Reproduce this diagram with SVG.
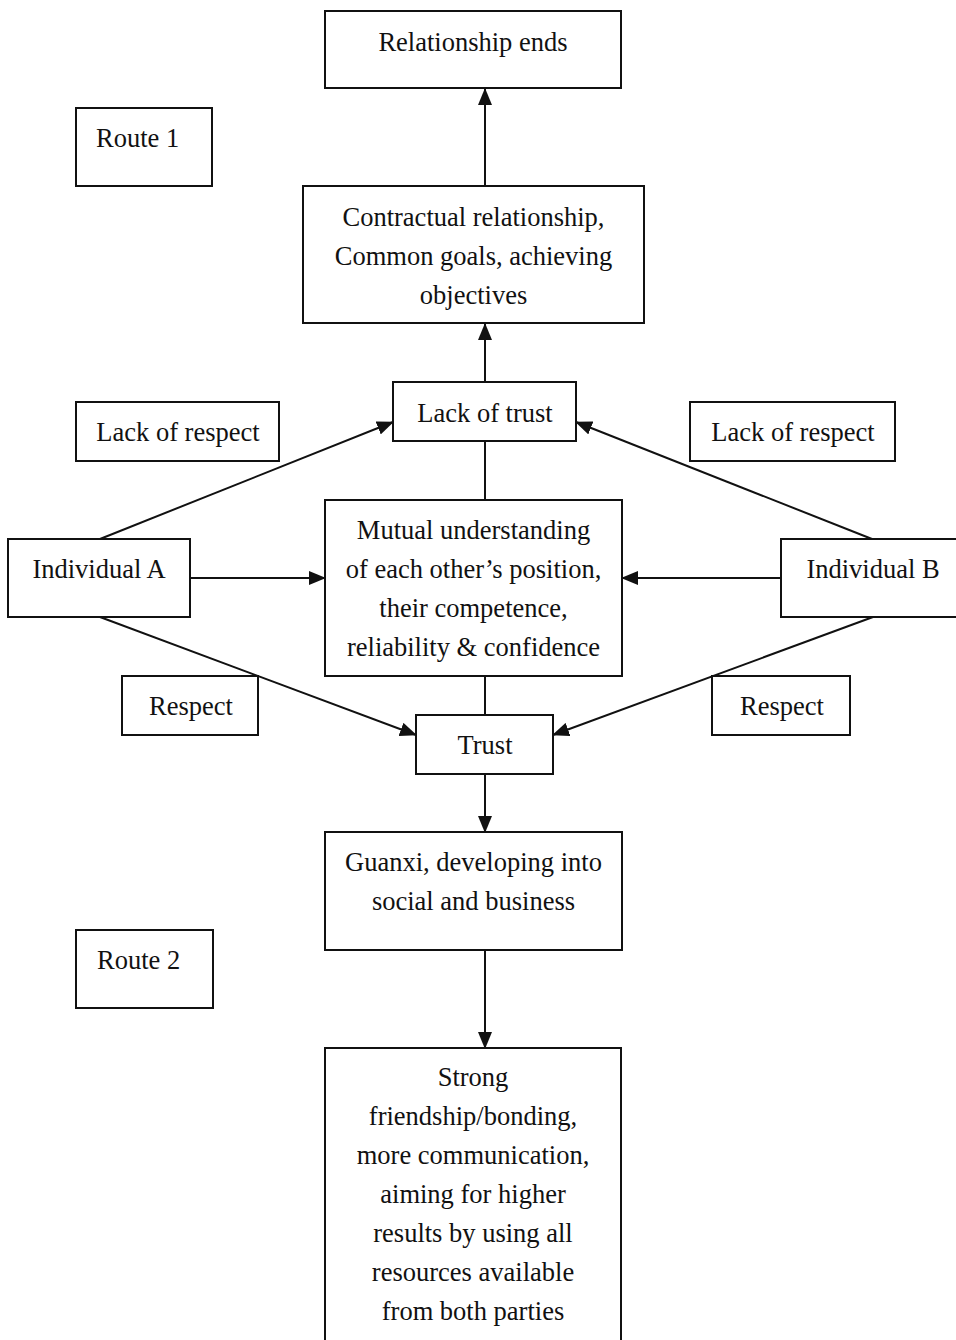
<svg xmlns="http://www.w3.org/2000/svg" width="956" height="1340" viewBox="0 0 956 1340">
  <style>
    .box { fill: #fff; stroke: #111; stroke-width: 2; }
    .lbl { font-family: "Liberation Serif", "Times New Roman", serif; font-size: 26.5px; fill: #111; text-anchor: middle; }
    .lft { text-anchor: start; }
    .edge { stroke: #111; stroke-width: 2; fill: none; }
    .arr { marker-end: url(#head); }
  </style>
  <defs>
    <marker id="head" markerUnits="userSpaceOnUse" markerWidth="17" markerHeight="14" refX="16" refY="7" orient="auto">
      <path d="M0,0 L17,7 L0,14 Z" fill="#111"/>
    </marker>
  </defs>

  <g id="connectors">
    <line class="edge arr" x1="485" y1="186" x2="485" y2="89"/>
    <line class="edge arr" x1="485" y1="382" x2="485" y2="324"/>
    <line class="edge" x1="485" y1="441" x2="485" y2="500"/>
    <line class="edge" x1="485" y1="676" x2="485" y2="715"/>
    <line class="edge arr" x1="485" y1="774" x2="485" y2="832"/>
    <line class="edge arr" x1="485" y1="950" x2="485" y2="1048"/>
    <line class="edge arr" x1="190" y1="578" x2="325" y2="578"/>
    <line class="edge arr" x1="781" y1="578" x2="622" y2="578"/>
    <line class="edge arr" x1="100" y1="539" x2="393" y2="422"/>
    <line class="edge arr" x1="872" y1="539" x2="576" y2="422"/>
    <line class="edge arr" x1="100" y1="617" x2="416" y2="735"/>
    <line class="edge arr" x1="873" y1="617" x2="553" y2="735"/>
  </g>

  <g id="relationship-ends">
    <rect class="box" x="325" y="11" width="296" height="77"/>
    <text class="lbl" x="473" y="51">Relationship ends</text>
  </g>

  <g id="route-1">
    <rect class="box" x="76" y="108" width="136" height="78"/>
    <text class="lbl lft" x="96" y="147">Route 1</text>
  </g>

  <g id="contractual">
    <rect class="box" x="303" y="186" width="341" height="137"/>
    <text class="lbl" x="473.5" y="226">Contractual relationship,</text>
    <text class="lbl" x="473.5" y="265">Common goals, achieving</text>
    <text class="lbl" x="473.5" y="304">objectives</text>
  </g>

  <g id="lack-of-trust">
    <rect class="box" x="393" y="382" width="183" height="59"/>
    <text class="lbl" x="485" y="422">Lack of trust</text>
  </g>

  <g id="lack-of-respect-a">
    <rect class="box" x="76" y="402" width="203" height="59"/>
    <text class="lbl" x="178" y="441">Lack of respect</text>
  </g>

  <g id="lack-of-respect-b">
    <rect class="box" x="690" y="402" width="205" height="59"/>
    <text class="lbl" x="793" y="441">Lack of respect</text>
  </g>

  <g id="mutual-understanding">
    <rect class="box" x="325" y="500" width="297" height="176"/>
    <text class="lbl" x="473.5" y="539">Mutual understanding</text>
    <text class="lbl" x="473.5" y="578">of each other’s position,</text>
    <text class="lbl" x="473.5" y="617">their competence,</text>
    <text class="lbl" x="473.5" y="656">reliability &amp; confidence</text>
  </g>

  <g id="individual-a">
    <rect class="box" x="8" y="539" width="182" height="78"/>
    <text class="lbl" x="99" y="578">Individual A</text>
  </g>

  <g id="individual-b">
    <rect class="box" x="781" y="539" width="190" height="78"/>
    <text class="lbl" x="873" y="578">Individual B</text>
  </g>

  <g id="respect-a">
    <rect class="box" x="122" y="676" width="136" height="59"/>
    <text class="lbl" x="191" y="715">Respect</text>
  </g>

  <g id="respect-b">
    <rect class="box" x="712" y="676" width="138" height="59"/>
    <text class="lbl" x="782" y="715">Respect</text>
  </g>

  <g id="trust">
    <rect class="box" x="416" y="715" width="137" height="59"/>
    <text class="lbl" x="485" y="754">Trust</text>
  </g>

  <g id="guanxi">
    <rect class="box" x="325" y="832" width="297" height="118"/>
    <text class="lbl" x="473.5" y="871">Guanxi, developing into</text>
    <text class="lbl" x="473.5" y="910">social and business</text>
  </g>

  <g id="route-2">
    <rect class="box" x="76" y="930" width="137" height="78"/>
    <text class="lbl lft" x="97" y="969">Route 2</text>
  </g>

  <g id="strong-bonding">
    <rect class="box" x="325" y="1048" width="296" height="310"/>
    <text class="lbl" x="473" y="1086">Strong</text>
    <text class="lbl" x="473" y="1125">friendship/bonding,</text>
    <text class="lbl" x="473" y="1164">more communication,</text>
    <text class="lbl" x="473" y="1203">aiming for higher</text>
    <text class="lbl" x="473" y="1242">results by using all</text>
    <text class="lbl" x="473" y="1281">resources available</text>
    <text class="lbl" x="473" y="1320">from both parties</text>
  </g>
</svg>
